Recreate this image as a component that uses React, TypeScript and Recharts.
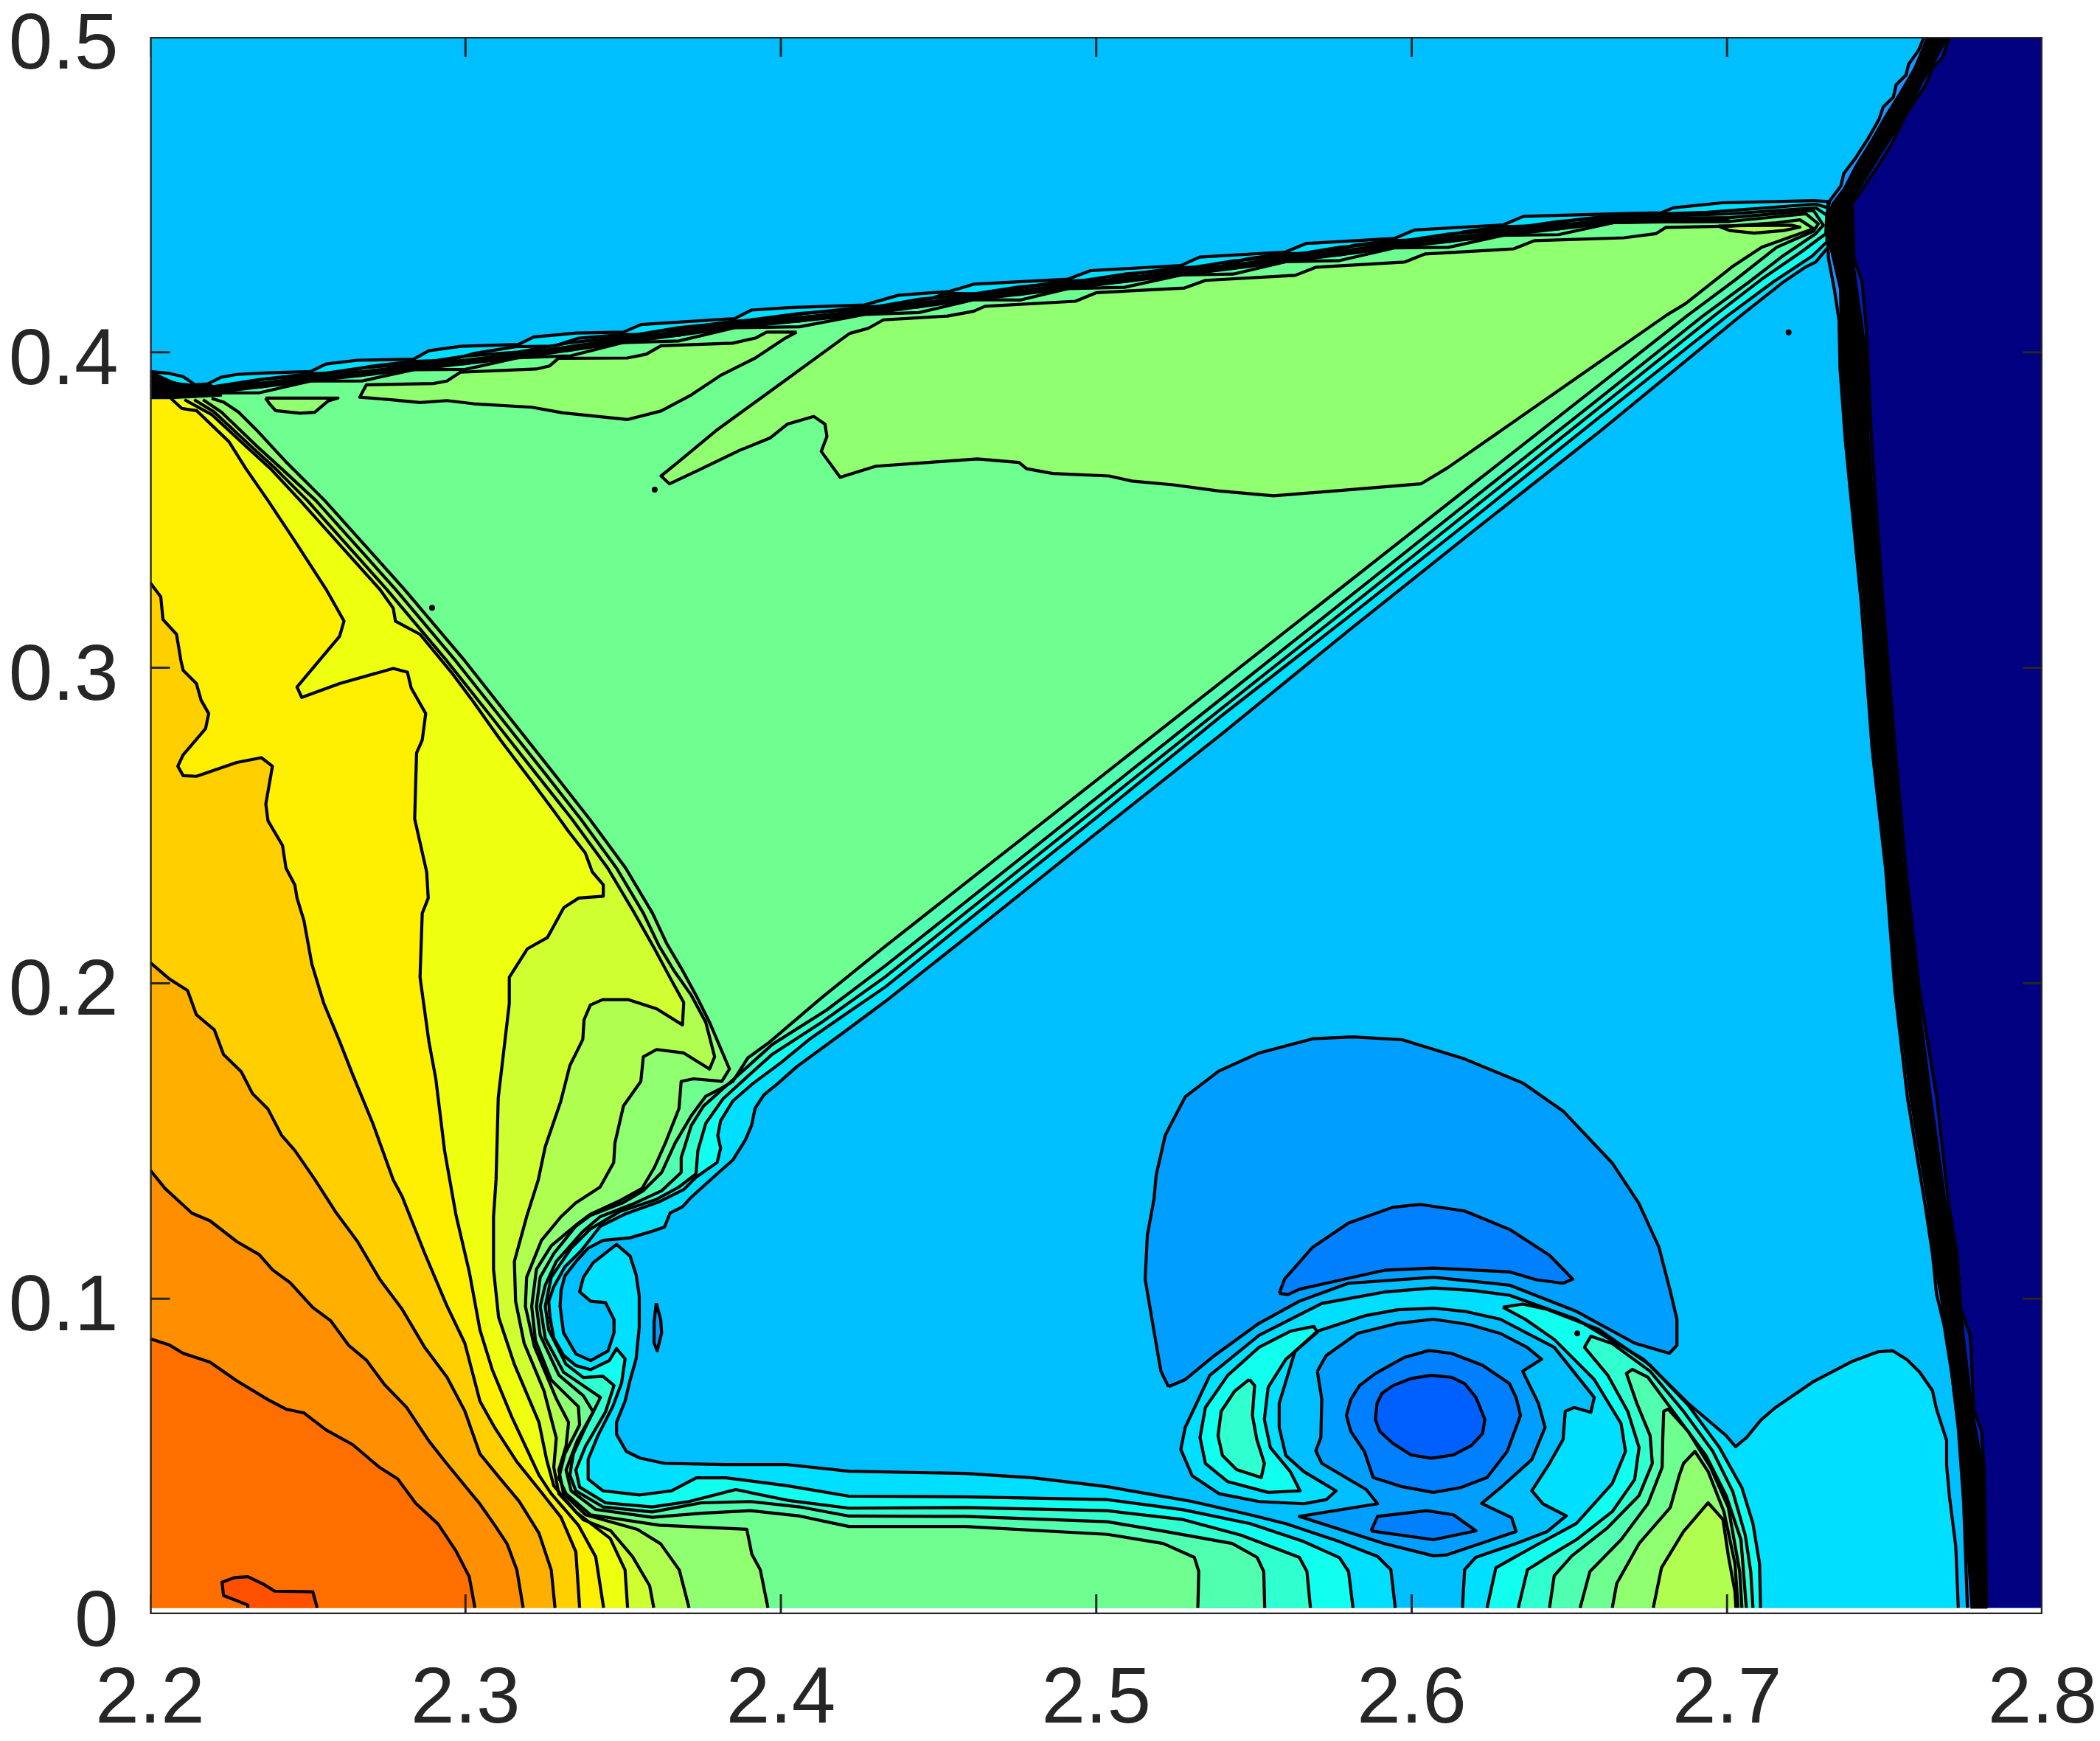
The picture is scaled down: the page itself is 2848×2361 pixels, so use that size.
import React from "react";
import { ScatterChart, Scatter, XAxis, YAxis } from "recharts";

type P = [number, number];

const X_TICKS = [2.2, 2.3, 2.4, 2.5, 2.6, 2.7, 2.8];
const Y_TICKS = [0, 0.1, 0.2, 0.3, 0.4, 0.5];

// ---- level boundaries (x, y) ----
const DOMAIN: P[] = [[2.2,.002],[2.8,.002],[2.8,.5],[2.2,.5]];

const L1_LEFT: P[] = [[2.2,.3939],[2.2062,.3933],[2.2105,.3923],[2.2143,.3897],[2.2183,.39],[2.2225,.3921],[2.2275,.393],[2.2374,.3935],[2.2509,.3939],[2.2558,.3963],[2.2658,.3975],[2.2835,.3978],[2.2884,.4005],[2.2984,.4019],[2.3168,.4025],[2.3217,.4049],[2.3352,.4061],[2.3501,.4064],[2.3557,.4088],[2.3853,.4107],[2.3907,.4134],[2.4026,.4142],[2.4265,.415],[2.4373,.4181],[2.4534,.4193],[2.4611,.4216],[2.491,.4232],[2.4982,.4259],[2.5268,.4275],[2.5328,.4302],[2.56,.4318],[2.5665,.4345],[2.5945,.4361],[2.601,.4388],[2.629,.4404],[2.6355,.4431],[2.6673,.444],[2.679,.4442],[2.6829,.4458],[2.6985,.4474],[2.7274,.4481],[2.732,.4478],[2.732,.4333],[2.7281,.4286],[2.725,.4271],[2.718,.4224],[2.7047,.4119],[2.66,.3752],[2.62,.3437],[2.58,.3118],[2.54,.2792],[2.5,.2475],[2.46,.2155],[2.4332,.1943],[2.42,.1845],[2.4051,.1736],[2.3989,.1681],[2.3946,.1646],[2.3918,.1603],[2.3907,.1549],[2.3887,.1502],[2.3848,.144],[2.3786,.1385],[2.3716,.1322],[2.3688,.1291],[2.3649,.1272],[2.3631,.1227],[2.3592,.1214],[2.3522,.1193],[2.3436,.1185],[2.3389,.116],[2.3354,.1122],[2.3315,.1072],[2.3303,.1026],[2.33,.0976],[2.3311,.0892],[2.335,.0825],[2.3397,.0804],[2.3452,.0834],[2.3471,.0892],[2.3471,.0934],[2.3444,.0988],[2.3397,.0992],[2.3362,.1022],[2.3374,.1068],[2.3405,.1114],[2.3479,.1172],[2.3522,.1135],[2.3541,.1076],[2.3551,.1009],[2.3551,.0909],[2.3541,.0809],[2.3522,.0742],[2.3506,.0675],[2.3479,.0608],[2.3479,.057],[2.351,.0516],[2.3553,.0495],[2.3631,.0478],[2.3826,.0474],[2.4021,.0474],[2.4216,.0453],[2.4584,.0446],[2.48,.0432],[2.5035,.0404],[2.5162,.0382],[2.5304,.0357],[2.5488,.0315],[2.5601,.0287],[2.5771,.023],[2.5892,.0183],[2.5934,.0141],[2.5948,.002]];

const HOLE: P[] = [[2.3605,.0986],[2.3619,.0934],[2.3622,.0892],[2.3608,.0835],[2.3598,.0859],[2.3598,.0926]];

const L1_RIGHT: P[] = [[2.6161,.002],[2.6168,.0141],[2.6203,.018],[2.6331,.0224],[2.643,.0262],[2.649,.0312],[2.6416,.035],[2.6381,.0391],[2.6437,.0478],[2.648,.0554],[2.6487,.0643],[2.6515,.0655],[2.6568,.064],[2.6579,.0687],[2.6452,.0846],[2.6281,.0935],[2.6168,.096],[2.6069,.097],[2.5956,.0965],[2.5856,.0947],[2.5701,.0897],[2.563,.0833],[2.558,.0668],[2.558,.0592],[2.5601,.0503],[2.5658,.0452],[2.576,.0391],[2.5729,.0363],[2.5658,.035],[2.5516,.0357],[2.5389,.0382],[2.5304,.0439],[2.5268,.0522],[2.5282,.0592],[2.536,.0757],[2.5516,.0884],[2.5715,.0985],[2.5913,.1021],[2.6069,.1034],[2.6196,.1026],[2.631,.1011],[2.6522,.0935],[2.6735,.0808],[2.6877,.0668],[2.6997,.0566],[2.7027,.0531],[2.7062,.056],[2.7107,.0615],[2.7152,.0654],[2.7275,.0738],[2.7398,.0802],[2.748,.0832],[2.7525,.0835],[2.757,.0807],[2.761,.0768],[2.7651,.0709],[2.7664,.065],[2.7696,.0551],[2.7696,.0472],[2.7705,.0373],[2.7725,.0215],[2.7733,.002]];

const LOW1_BIG: P[] = [[2.5229,.0721],[2.5283,.0744],[2.5375,.082],[2.5516,.0922],[2.5644,.0992],[2.58,.1049],[2.6069,.1068],[2.631,.1043],[2.6522,.096],[2.6707,.0859],[2.6817,.0827],[2.6841,.0852],[2.6841,.0935],[2.682,.1024],[2.6784,.1163],[2.672,.1303],[2.6636,.143],[2.648,.1595],[2.6352,.1684],[2.6168,.176],[2.597,.1821],[2.5814,.183],[2.5686,.1824],[2.5516,.1779],[2.5389,.1722],[2.5282,.164],[2.5219,.1519],[2.519,.1392],[2.5183,.1316],[2.5162,.1201],[2.5155,.1062],[2.5183,.0897],[2.5205,.077]];
const LOW2_ARC: P[] = [[2.558,.1017],[2.5597,.1062],[2.5686,.1163],[2.58,.124],[2.5941,.129],[2.6026,.1299],[2.6168,.1278],[2.631,.122],[2.6437,.1138],[2.6511,.1062],[2.648,.1049],[2.6395,.106],[2.631,.1085],[2.6069,.1097],[2.5913,.109],[2.5786,.1062],[2.5644,.103],[2.5608,.1013]];
const LOW1_EYE: P[] = [[2.5701,.077],[2.5729,.082],[2.5828,.089],[2.5956,.0922],[2.6069,.0935],[2.6182,.0918],[2.6281,.089],[2.6366,.0846],[2.6412,.0808],[2.6352,.077],[2.6402,.0668],[2.6423,.0592],[2.6381,.049],[2.6282,.0401],[2.6222,.0351],[2.6317,.0306],[2.6331,.0262],[2.6112,.0188],[2.6069,.0185],[2.5913,.0224],[2.5644,.031],[2.5892,.035],[2.5856,.0395],[2.5715,.0478],[2.5696,.0518],[2.5712,.056],[2.5715,.0681]];
const LOW2_EYE: P[] = [[2.5807,.0681],[2.5793,.063],[2.5807,.0579],[2.585,.0516],[2.5878,.0433],[2.597,.0404],[2.6069,.0386],[2.6154,.0401],[2.6239,.0433],[2.6303,.0516],[2.6345,.063],[2.6331,.0687],[2.631,.0731],[2.6225,.0789],[2.6126,.0827],[2.6055,.0836],[2.5977,.0814],[2.5885,.0763],[2.5835,.0725]];
const LOW3_EYE: P[] = [[2.5941,.0725],[2.5998,.0747],[2.6062,.0757],[2.6126,.0751],[2.6168,.0731],[2.6204,.0687],[2.6232,.0617],[2.6225,.0573],[2.619,.0535],[2.6133,.0505],[2.6062,.0494],[2.5998,.0505],[2.5941,.0541],[2.5899,.0579],[2.5885,.0617],[2.589,.0668],[2.5906,.07]];
const LOW2_SMALL: P[] = [[2.5871,.0264],[2.5892,.031],[2.6048,.0328],[2.6133,.0315],[2.6204,.0264],[2.6069,.0236]];

const L2_LEFT: P[] = [[2.2,.3925],[2.2143,.3885],[2.2288,.3897],[2.2366,.3916],[2.2507,.3932],[2.2616,.3936],[2.2694,.3955],[2.2834,.3971],[2.295,.3975],[2.303,.3997],[2.316,.4018],[2.328,.402],[2.336,.4045],[2.3495,.4056],[2.362,.4058],[2.37,.4077],[2.3845,.4098],[2.3955,.4105],[2.4074,.4123],[2.4253,.4142],[2.442,.4155],[2.448,.4172],[2.4525,.4187],[2.4671,.4185],[2.4779,.4208],[2.49,.4226],[2.504,.423],[2.514,.4252],[2.526,.4268],[2.539,.4272],[2.548,.4297],[2.559,.4312],[2.573,.4316],[2.582,.434],[2.5935,.4354],[2.6075,.4358],[2.6165,.4382],[2.628,.4398],[2.642,.4402],[2.652,.442],[2.664,.4434],[2.6938,.4444],[2.7281,.447],[2.732,.4458],[2.7316,.435],[2.727,.4305],[2.7149,.4225],[2.7,.4115],[2.66,.3798],[2.62,.3478],[2.58,.3162],[2.54,.285],[2.5,.2525],[2.46,.2205],[2.4332,.1989],[2.4191,.1892],[2.409,.1822],[2.4004,.1751],[2.391,.1681],[2.3848,.1627],[2.3809,.1564],[2.38,.1517],[2.3809,.1478],[2.3798,.1432],[2.3731,.1385],[2.3692,.1346],[2.3614,.1307],[2.3505,.1268],[2.3427,.1229],[2.3366,.1151],[2.3315,.1101],[2.328,.1038],[2.3264,.0992],[2.3268,.0942],[2.328,.0875],[2.3311,.0821],[2.335,.0788],[2.3397,.0775],[2.3456,.0804],[2.3479,.0842],[2.3506,.0809],[2.3495,.0733],[2.3467,.0658],[2.342,.0566],[2.3389,.0491],[2.3389,.0428],[2.3436,.0391],[2.3553,.0378],[2.3654,.0391],[2.3732,.0432],[2.3826,.0432],[2.4021,.0407],[2.4216,.0374],[2.4584,.0372],[2.5035,.0363],[2.5275,.0331],[2.5488,.0287],[2.5658,.023],[2.5771,.0179],[2.58,.0135],[2.5814,.002]];
const L2_RIGHT: P[] = [[2.6289,.0973],[2.6352,.0983],[2.643,.0966],[2.6593,.0903],[2.6756,.0789],[2.6877,.0662],[2.6976,.0528],[2.7047,.0401],[2.7082,.0287],[2.7103,.016],[2.7106,.002]];
const L2_RIGHT_IN: P[] = [[2.6239,.002],[2.6267,.0147],[2.6381,.0211],[2.6522,.0287],[2.6636,.0414],[2.6678,.0516],[2.6664,.0604],[2.6579,.0744],[2.6452,.0871],[2.636,.0935],[2.6289,.0973]];
const L2_CRESCENT: P[] = [[2.5615,.0897],[2.569,.0912],[2.5701,.0894],[2.5601,.0808],[2.5545,.0719],[2.5533,.0617],[2.5552,.0528],[2.5615,.0452],[2.5646,.0391],[2.5545,.0386],[2.5417,.042],[2.5346,.0478],[2.5329,.056],[2.5346,.0655],[2.5417,.0757],[2.5516,.0846]];

const L3_LEFT: P[] = [[2.2,.391],[2.2187,.3889],[2.2348,.3914],[2.2509,.3927],[2.2672,.3951],[2.2835,.3963],[2.3,.3988],[2.3168,.4001],[2.3334,.4031],[2.35,.4049],[2.3676,.4078],[2.3853,.4096],[2.4059,.4123],[2.4265,.4138],[2.4438,.4168],[2.4611,.4185],[2.476,.4208],[2.491,.422],[2.5089,.4248],[2.5268,.4263],[2.5434,.429],[2.56,.4305],[2.5772,.4333],[2.5945,.4349],[2.6117,.4375],[2.629,.4389],[2.6465,.4415],[2.664,.4429],[2.68,.4432],[2.7008,.4439],[2.7281,.4458],[2.7316,.4435],[2.7313,.4376],[2.7235,.4318],[2.711,.4232],[2.6958,.4115],[2.66,.3829],[2.62,.351],[2.58,.3191],[2.54,.2873],[2.5,.2554],[2.46,.2235],[2.4332,.2021],[2.4129,.1876],[2.3973,.1775],[2.3895,.1705],[2.3817,.1634],[2.3762,.1556],[2.3737,.147],[2.3731,.1396],[2.3677,.1354],[2.3606,.1315],[2.3489,.1276],[2.3396,.1221],[2.3335,.116],[2.3272,.1068],[2.3253,.0976],[2.3264,.0901],[2.3319,.0792],[2.3374,.075],[2.3436,.0754],[2.3471,.0725],[2.3444,.0641],[2.3381,.0533],[2.335,.0457],[2.3362,.0403],[2.3444,.0353],[2.3592,.034],[2.3709,.0357],[2.3857,.0395],[2.4021,.0361],[2.4216,.0336],[2.4584,.0338],[2.5035,.0328],[2.5275,.03],[2.546,.025],[2.5644,.018],[2.5668,.0135],[2.5679,.002]];
const L3_RIGHT: P[] = [[2.6338,.002],[2.6367,.0141],[2.6437,.0185],[2.6522,.0236],[2.6636,.0325],[2.6707,.0427],[2.6721,.0528],[2.6685,.0643],[2.6622,.0757],[2.6548,.0846],[2.6568,.0881],[2.6636,.0858],[2.6756,.077],[2.6862,.0643],[2.6955,.0516],[2.7018,.0389],[2.7058,.0249],[2.7075,.0135],[2.7082,.002]];
const L3_CRESCENT: P[] = [[2.5485,.0744],[2.5502,.0725],[2.5495,.063],[2.5509,.0554],[2.5533,.0478],[2.5523,.0433],[2.5445,.0458],[2.54,.0503],[2.5386,.0566],[2.5396,.0643],[2.5438,.0706]];

const L4_LEFT: P[] = [[2.2,.39],[2.2187,.3881],[2.2348,.389],[2.2509,.3919],[2.2672,.3927],[2.2835,.3955],[2.3,.3964],[2.3168,.3993],[2.3334,.4007],[2.35,.4041],[2.3676,.4054],[2.3853,.4088],[2.4059,.4099],[2.4265,.413],[2.4438,.4144],[2.4611,.4177],[2.476,.4184],[2.491,.4212],[2.5089,.4224],[2.5268,.4255],[2.5434,.4266],[2.56,.4297],[2.5772,.4309],[2.5945,.4341],[2.6117,.4351],[2.629,.4381],[2.6465,.4391],[2.664,.4421],[2.68,.4425],[2.7008,.4427],[2.7274,.445],[2.7305,.4403],[2.7281,.4376],[2.7172,.4302],[2.7071,.4224],[2.6923,.4115],[2.66,.3858],[2.62,.3541],[2.58,.3223],[2.54,.2905],[2.5,.2587],[2.46,.2269],[2.4332,.2056],[2.4145,.1915],[2.3973,.1806],[2.3895,.1736],[2.3817,.1666],[2.3755,.1611],[2.3716,.1549],[2.3684,.1447],[2.3684,.14],[2.3622,.1342],[2.3528,.1299],[2.3427,.126],[2.3372,.1213],[2.3288,.1118],[2.3253,.1043],[2.3237,.0976],[2.3253,.0875],[2.3311,.0767],[2.3428,.0687],[2.338,.0591],[2.3342,.0508],[2.3331,.0441],[2.335,.0391],[2.3436,.034],[2.3592,.0324],[2.3748,.0353],[2.3904,.0357],[2.406,.034],[2.4216,.0311],[2.4584,.031],[2.5035,.0293],[2.5219,.0262],[2.5431,.0224],[2.551,.018],[2.5531,.0135],[2.5534,.002]];
const L4_RIGHT: P[] = [[2.6437,.002],[2.6452,.0122],[2.6508,.0185],[2.6621,.0274],[2.6721,.0376],[2.6763,.0478],[2.6756,.0566],[2.6714,.0668],[2.6681,.0763],[2.67,.0776],[2.6749,.0751],[2.6848,.0617],[2.6933,.0503],[2.6997,.0376],[2.7044,.0236],[2.7061,.002]];

const L5_LEFT: P[] = [[2.2,.389],[2.2187,.3871],[2.2348,.3872],[2.2509,.3909],[2.2672,.3909],[2.2835,.3945],[2.3,.3946],[2.3168,.3983],[2.3334,.3989],[2.35,.4031],[2.3676,.4036],[2.3853,.4078],[2.4059,.4081],[2.4265,.412],[2.4438,.4126],[2.4611,.4167],[2.476,.4166],[2.491,.4202],[2.5089,.4206],[2.5268,.4245],[2.5434,.4248],[2.56,.4287],[2.5772,.4291],[2.5945,.4331],[2.6117,.4333],[2.629,.4371],[2.6465,.4373],[2.664,.4411],[2.68,.4415],[2.7008,.4415],[2.725,.4439],[2.7289,.4407],[2.7274,.4384],[2.7157,.4333],[2.7024,.4228],[2.6872,.4115],[2.66,.3901],[2.62,.3587],[2.58,.3272],[2.54,.2958],[2.5,.2643],[2.46,.2329],[2.4332,.2118],[2.4129,.1954],[2.3965,.1814],[2.3895,.1763],[2.3848,.1689],[2.3809,.1666],[2.3762,.1642],[2.3716,.158],[2.3665,.1494],[2.3622,.14],[2.3563,.1342],[2.3497,.1303],[2.3396,.1264],[2.3349,.1229],[2.328,.1143],[2.3237,.1068],[2.3225,.0976],[2.3237,.0884],[2.3296,.0758],[2.3374,.0692],[2.3405,.0641],[2.3354,.0549],[2.3319,.0457],[2.3335,.0391],[2.3413,.0332],[2.3592,.0307],[2.3748,.032],[2.3904,.0328],[2.406,.0311],[2.4216,.0278],[2.4584,.0278],[2.5035,.0253],[2.5212,.0224],[2.5311,.018],[2.5325,.0135],[2.5322,.002]];
const L5_RIGHT: P[] = [[2.6534,.002],[2.6565,.0135],[2.6664,.0236],[2.6749,.035],[2.6794,.0465],[2.6796,.0554],[2.6799,.0643],[2.6813,.065],[2.6877,.0579],[2.6948,.0465],[2.7004,.0338],[2.704,.0135],[2.7047,.002]];

const L6_LEFT: P[] = [[2.2195,.3854],[2.2234,.3842],[2.2281,.381],[2.2343,.3748],[2.2429,.3655],[2.2554,.353],[2.2806,.3249],[2.2998,.3022],[2.3139,.2843],[2.3281,.2664],[2.3394,.252],[2.3508,.2365],[2.3593,.2222],[2.3638,.2126],[2.3684,.2048],[2.3731,.1962],[2.3774,.1876],[2.3837,.1728],[2.3813,.1689],[2.3723,.1697],[2.3684,.1689],[2.3677,.1603],[2.3634,.1494],[2.3599,.1416],[2.356,.135],[2.349,.1311],[2.3396,.1268],[2.335,.1233],[2.3272,.1168],[2.3225,.1093],[2.321,.0976],[2.3222,.0867],[2.3272,.0742],[2.3358,.0658],[2.3362,.06],[2.3315,.0508],[2.3296,.0432],[2.3319,.0382],[2.3397,.0315],[2.3615,.0282],[2.3892,.0269],[2.3908,.019],[2.3935,.014],[2.3959,.002]];
const L6_TOP: P[] = [[2.4218,.406],[2.4277,.4076],[2.4325,.4103],[2.4528,.4115],[2.4611,.413],[2.4647,.4146],[2.4934,.4162],[2.5,.4189],[2.528,.4204],[2.5346,.4228],[2.5631,.4244],[2.5697,.427],[2.5977,.4286],[2.6043,.4312],[2.6323,.4328],[2.6389,.4354],[2.6673,.4363],[2.6774,.4376],[2.6806,.4396],[2.7008,.44],[2.7157,.4411],[2.7231,.442],[2.7274,.4392],[2.711,.4333],[2.7016,.4271],[2.6868,.4154],[2.681,.4119],[2.6114,.3634],[2.6029,.3583],[2.5774,.3562],[2.5562,.3545],[2.5385,.3561],[2.5244,.358],[2.5113,.3592],[2.5041,.3608],[2.4862,.3616],[2.4779,.3631],[2.4755,.3651],[2.4623,.3662],[2.4468,.3651],[2.4301,.3639],[2.4188,.3604],[2.4128,.3686],[2.4146,.3733],[2.414,.3772],[2.4104,.3797],[2.402,.3772],[2.3967,.3729],[2.3871,.369],[2.374,.3627],[2.3647,.3583],[2.362,.3608],[2.3668,.3647],[2.38,.3756],[2.4026,.392]];
const L6_MID: P[] = [[2.405,.4064],[2.4014,.4045],[2.3919,.3982],[2.3811,.3928],[2.3716,.3865],[2.362,.3814],[2.3513,.3787],[2.3309,.3808],[2.321,.3826],[2.3026,.3837],[2.2941,.3847],[2.2856,.3841],[2.2771,.3849],[2.2665,.3858],[2.2686,.3897],[2.2898,.3901],[2.2941,.3909],[2.2984,.3937],[2.3224,.3947],[2.3267,.3957],[2.3295,.3981],[2.3513,.3982],[2.3573,.3994],[2.362,.4021],[2.3847,.4029],[2.3919,.4045],[2.3955,.4064]];
const L6_SMALL: P[] = [[2.2366,.3855],[2.2596,.3855],[2.2565,.3846],[2.2522,.381],[2.2476,.3807],[2.2398,.3815],[2.2378,.3838]];
const L6_RIGHT: P[] = [[2.6636,.002],[2.665,.0097],[2.6721,.0224],[2.682,.0338],[2.6848,.0439],[2.6862,.0478],[2.6898,.0516],[2.694,.0452],[2.699,.0325],[2.7025,.016],[2.7035,.002]];

const L7_LEFT: P[] = [[2.2168,.385],[2.2226,.3811],[2.2339,.3702],[2.2417,.3631],[2.2526,.353],[2.2778,.3249],[2.2969,.3022],[2.3111,.2843],[2.3253,.2664],[2.3366,.252],[2.3479,.2365],[2.3564,.2222],[2.3614,.2118],[2.3661,.204],[2.3716,.1962],[2.3762,.1876],[2.379,.1767],[2.3774,.1728],[2.3692,.1779],[2.3606,.179],[2.3564,.1767],[2.3556,.1689],[2.3501,.1611],[2.3474,.1494],[2.347,.1432],[2.3427,.1354],[2.3349,.1303],[2.3303,.126],[2.3241,.1185],[2.3194,.1068],[2.319,.0976],[2.3218,.085],[2.3288,.0683],[2.3327,.0608],[2.3319,.0533],[2.3296,.0457],[2.3311,.0382],[2.3381,.0315],[2.3545,.0269],[2.3619,.0223],[2.3678,.014],[2.3709,.002]];
const L7_RIGHT: P[] = [[2.6766,.002],[2.6792,.0147],[2.6862,.0262],[2.694,.0353],[2.6987,.03],[2.7004,.0185],[2.7025,.0071],[2.7028,.002]];
const L7_TIP: P[] = [[2.6973,.44],[2.7008,.4386],[2.7086,.4378],[2.718,.4386],[2.7231,.4397],[2.7203,.4403],[2.7063,.4402]];

const L8_LEFT: P[] = [[2.214,.385],[2.2203,.3811],[2.232,.3702],[2.2398,.3631],[2.2499,.353],[2.275,.3249],[2.2941,.3022],[2.3083,.2843],[2.3224,.2664],[2.3338,.252],[2.3451,.2365],[2.3536,.2222],[2.3599,.211],[2.3649,.2017],[2.3692,.1939],[2.3688,.1868],[2.3606,.1919],[2.3517,.1948],[2.3435,.1948],[2.3396,.1931],[2.3376,.1884],[2.3372,.1822],[2.3349,.1775],[2.3331,.1739],[2.3302,.1625],[2.3253,.1482],[2.3231,.1377],[2.3194,.126],[2.3155,.1118],[2.3159,.0992],[2.3186,.0859],[2.3249,.0708],[2.3288,.0558],[2.328,.0466],[2.3296,.0382],[2.3374,.0299],[2.346,.0265],[2.353,.0182],[2.3584,.009],[2.3597,.002]];
const L9_LEFT: P[] = [[2.2109,.385],[2.2195,.3803],[2.2304,.3702],[2.2382,.3631],[2.2476,.353],[2.2728,.3249],[2.2771,.3189],[2.2778,.3148],[2.2856,.3106],[2.2955,.2986],[2.3026,.2891],[2.3111,.2771],[2.321,.264],[2.3281,.2545],[2.3324,.2485],[2.338,.2413],[2.3402,.2353],[2.3437,.2312],[2.3437,.2276],[2.3359,.227],[2.3312,.224],[2.326,.2145],[2.3196,.2109],[2.3139,.2019],[2.3139,.1936],[2.3125,.1816],[2.3104,.1637],[2.3097,.1377],[2.3089,.126],[2.3089,.1093],[2.3105,.0942],[2.3155,.0792],[2.3233,.0608],[2.3257,.0491],[2.328,.0407],[2.335,.0324],[2.3459,.024],[2.3506,.014],[2.3514,.002]];
const L10_LEFT: P[] = [[2.2066,.3854],[2.2101,.3822],[2.2148,.3815],[2.225,.3717],[2.2304,.3631],[2.2374,.353],[2.2459,.3402],[2.2558,.3249],[2.2615,.3148],[2.2601,.31],[2.2466,.2939],[2.2481,.2906],[2.2601,.295],[2.2771,.2998],[2.2816,.2986],[2.2828,.2936],[2.2874,.2855],[2.2863,.2771],[2.2845,.273],[2.2839,.2521],[2.2877,.2353],[2.2882,.227],[2.2863,.2222],[2.2856,.2019],[2.2884,.1816],[2.2906,.1697],[2.2934,.1468],[2.297,.1265],[2.3012,.1086],[2.3046,.0901],[2.3085,.0775],[2.3147,.0625],[2.3233,.0441],[2.3272,.0382],[2.3358,.0282],[2.3413,.0182],[2.3438,.002]];
const L11_LEFT: P[] = [[2.2,.327],[2.2034,.3225],[2.2041,.3153],[2.2084,.3106],[2.2098,.3022],[2.2105,.2992],[2.2147,.295],[2.2162,.2897],[2.2186,.2855],[2.2176,.2807],[2.2105,.2724],[2.2088,.2688],[2.2105,.2658],[2.2147,.2656],[2.2275,.27],[2.2353,.2715],[2.2388,.2688],[2.2367,.2568],[2.2374,.2515],[2.242,.2437],[2.2431,.2365],[2.2459,.2312],[2.2466,.227],[2.2488,.2198],[2.2513,.2061],[2.2551,.1936],[2.2601,.1816],[2.2643,.1709],[2.2707,.1554],[2.2771,.1377],[2.2799,.1325],[2.287,.1146],[2.2941,.0978],[2.2998,.0859],[2.3046,.0675],[2.3093,.0591],[2.3163,.0483],[2.3237,.0391],[2.3303,.0307],[2.335,.0198],[2.3362,.002]];
const L12_LEFT: P[] = [[2.2,.2066],[2.2062,.2013],[2.2119,.1977],[2.2147,.19],[2.2204,.1852],[2.2233,.1774],[2.2289,.172],[2.2325,.165],[2.2374,.1601],[2.2417,.1518],[2.2459,.147],[2.2523,.1377],[2.2587,.1277],[2.2658,.1181],[2.2728,.1062],[2.2799,.0967],[2.287,.0847],[2.2941,.0752],[2.2998,.0644],[2.3046,.0508],[2.3108,.0432],[2.3171,.0357],[2.3233,.0257],[2.3272,.014],[2.3284,.002]];
const L13_LEFT: P[] = [[2.2,.1408],[2.2048,.1349],[2.2133,.1271],[2.219,.1247],[2.2275,.1181],[2.2346,.114],[2.2388,.1092],[2.2445,.105],[2.2516,.0972],[2.2573,.093],[2.2629,.0853],[2.2686,.0805],[2.2743,.0728],[2.2813,.0656],[2.2884,.0549],[2.2941,.0477],[2.3046,.0349],[2.3093,.0282],[2.3132,.0223],[2.3163,.014],[2.3183,.002]];
const L14_LEFT: P[] = [[2.2,.0873],[2.2062,.0853],[2.2105,.0827],[2.219,.0799],[2.2275,.074],[2.2374,.068],[2.2431,.065],[2.2488,.0638],[2.2558,.0584],[2.2643,.0537],[2.2728,.0465],[2.2785,.0429],[2.2842,.0352],[2.2913,.0286],[2.2969,.0202],[2.3012,.0119],[2.303,.002]];
const L15_BLOB: P[] = [[2.231,.002],[2.231,.0029],[2.2233,.0059],[2.2228,.0101],[2.2268,.0116],[2.231,.0119],[2.236,.0095],[2.2395,.0073],[2.2516,.0071],[2.253,.002]];

// stem band and its thick left end
const STEM_CORE: P[] = [[2.2187,.3877],[2.2348,.3896],[2.2509,.3915],[2.2672,.3933],[2.2835,.3951],[2.3,.397],[2.3168,.3989],[2.3334,.4013],[2.35,.4037],[2.3676,.406],[2.3853,.4084],[2.4059,.4105],[2.4265,.4126],[2.4438,.415],[2.4611,.4173],[2.476,.419],[2.491,.4208],[2.5089,.423],[2.5268,.4251],[2.5434,.4272],[2.56,.4293],[2.5772,.4315],[2.5945,.4337],[2.6117,.4357],[2.629,.4377],[2.6465,.4397],[2.664,.4417],[2.68,.4419],[2.7008,.442]];
const STEM_END: P[] = [[2.2,.394],[2.207,.3908],[2.2109,.3893],[2.2187,.39],[2.2226,.3881],[2.2226,.3862],[2.2066,.3854],[2.2,.3854]];

// right shock
const SHOCK_LEFT_WAVE: P[] = [[2.7625,.5],[2.7607,.4957],[2.7576,.4914],[2.7567,.4879],[2.7536,.4848],[2.7527,.4809],[2.7495,.4778],[2.7482,.4739],[2.7446,.4676],[2.7406,.4614],[2.737,.4567],[2.7361,.4528],[2.7326,.4481],[2.7317,.4442],[2.7321,.43],[2.734,.42],[2.7355,.41],[2.7358,.395],[2.7375,.3719],[2.7425,.3209],[2.746,.2741],[2.7503,.2359],[2.7532,.1976],[2.7572,.1636],[2.7628,.1296],[2.7651,.1143],[2.7664,.1015],[2.7688,.0916],[2.7713,.0758],[2.7733,.059],[2.775,.0353],[2.7762,.002]];
const SHOCK_CORE_LEFT: P[] = [[2.7634,.5],[2.7594,.4903],[2.7549,.4825],[2.7504,.4754],[2.7455,.4669],[2.7406,.459],[2.737,.452],[2.7335,.4474],[2.7321,.4442],[2.7321,.4357],[2.7357,.4201],[2.7362,.3951],[2.738,.3719],[2.7432,.3209],[2.7466,.2741],[2.7508,.2359],[2.7538,.1976],[2.758,.1636],[2.7636,.1296],[2.7651,.1143],[2.7675,.1015],[2.7692,.0906],[2.7733,.058],[2.7755,.03],[2.7774,.002]];
const SHOCK_CORE_RIGHT: P[] = [[2.7701,.5],[2.767,.4942],[2.762,.4856],[2.7571,.4762],[2.7518,.4676],[2.7455,.4575],[2.7406,.4497],[2.7397,.4474],[2.7402,.4279],[2.7437,.4029],[2.7442,.3951],[2.745,.3719],[2.7488,.3209],[2.7526,.2741],[2.756,.2359],[2.7604,.1976],[2.7648,.1636],[2.7695,.1296],[2.7729,.1143],[2.7741,.0975],[2.7778,.0649],[2.7815,.0452],[2.7823,.002]];
const SHOCK_RIGHT_WAVE: P[] = [[2.7705,.5],[2.7683,.4934],[2.7652,.4903],[2.763,.4848],[2.7567,.4754],[2.7522,.4661],[2.7478,.459],[2.7415,.4497],[2.7397,.4474],[2.7402,.43],[2.7428,.4224],[2.7442,.4068],[2.7447,.395],[2.7458,.3719],[2.7494,.3209],[2.7533,.2741],[2.7567,.2359],[2.761,.1976],[2.7665,.1636],[2.7703,.1296],[2.7729,.1143],[2.7741,.0965],[2.777,.0886],[2.7774,.0827],[2.7782,.0649],[2.7807,.058],[2.7815,.0452],[2.7823,.002]];

const DOTS: P[] = [[2.36,.3565],[2.2894,.319],[2.7195,.4063],[2.6525,.089]];

// ---- colours ----
const BLUE_0 = "#00BFFF", BLUE_1 = "#009FFF", BLUE_2 = "#007FFF", BLUE_3 = "#005FFF", NAVY = "#000080";
const LV = ["", "#00DFFF", "#10FFEF", "#30FFCF", "#50FFAF", "#6FFF90", "#90FF70", "#B0FF50", "#CFFF30", "#EFFF10", "#FFEF00", "#FFCF00", "#FFAF00", "#FF8F00", "#FF6F00", "#FF4F00"];

const closed = (a: P[]): P[] => [...a, a[0]];
const rev = (a: P[]): P[] => [...a].reverse();
const toRows = (a: P[]) => a.map(([x, y]) => ({ x, y }));
const LL: P[] = [[2.2, 0.002]];

// fill polygons, painted in order
const FILLS: [string, P[]][] = [
  [BLUE_0, DOMAIN],
  [LV[1], [...L1_LEFT, ...LL]],
  [BLUE_1, HOLE],
  [LV[1], L1_RIGHT],
  [BLUE_1, LOW1_BIG],
  [BLUE_2, LOW2_ARC],
  [BLUE_1, LOW1_EYE],
  [BLUE_2, LOW2_EYE],
  [BLUE_3, LOW3_EYE],
  [BLUE_2, LOW2_SMALL],
  [LV[2], [...L2_LEFT, ...LL]],
  [LV[2], [...L2_RIGHT, ...L2_RIGHT_IN]],
  [LV[2], L2_CRESCENT],
  [LV[3], [...L3_LEFT, ...LL]],
  [LV[3], L3_RIGHT],
  [LV[3], L3_CRESCENT],
  [LV[4], [...L4_LEFT, ...LL]],
  [LV[4], L4_RIGHT],
  [LV[5], [...L5_LEFT, ...LL]],
  [LV[5], L5_RIGHT],
  [LV[6], [...L6_LEFT, ...LL, [2.2, 0.3854]]],
  [LV[6], L6_TOP],
  [LV[6], L6_MID],
  [LV[6], L6_SMALL],
  [LV[6], L6_RIGHT],
  [LV[7], [...L7_LEFT, ...LL, [2.2, 0.385]]],
  [LV[7], L7_RIGHT],
  [LV[7], L7_TIP],
  [LV[8], [...L8_LEFT, ...LL, [2.2, 0.385]]],
  [LV[9], [...L9_LEFT, ...LL, [2.2, 0.385]]],
  [LV[10], [...L10_LEFT, ...LL, [2.2, 0.385]]],
  [LV[11], [...L11_LEFT, ...LL]],
  [LV[12], [...L12_LEFT, ...LL]],
  [LV[13], [...L13_LEFT, ...LL]],
  [LV[14], [...L14_LEFT, ...LL]],
  [LV[15], L15_BLOB],
  [NAVY, [...SHOCK_RIGHT_WAVE, [2.8, 0.002], [2.8, 0.5]]],
  ["#0020C0", [...SHOCK_RIGHT_WAVE, ...rev(SHOCK_CORE_RIGHT)]],
  ["#1E90FF", [...SHOCK_LEFT_WAVE, ...rev(SHOCK_CORE_LEFT)]],
];

// contour lines, all drawn over the fills
const LINES: P[][] = [
  L1_LEFT, closed(HOLE), L1_RIGHT, closed(LOW1_BIG), closed(LOW2_ARC), closed(LOW1_EYE), closed(LOW2_EYE), closed(LOW3_EYE), closed(LOW2_SMALL),
  L2_LEFT, L2_RIGHT, L2_RIGHT_IN, closed(L2_CRESCENT),
  L3_LEFT, L3_RIGHT, closed(L3_CRESCENT),
  L4_LEFT, L4_RIGHT, L5_LEFT, L5_RIGHT,
  L6_LEFT, closed(L6_TOP), closed(L6_MID), closed(L6_SMALL), L6_RIGHT,
  L7_LEFT, L7_RIGHT, closed(L7_TIP),
  L8_LEFT, L9_LEFT, L10_LEFT, L11_LEFT, L12_LEFT, L13_LEFT, L14_LEFT, L15_BLOB,
  SHOCK_LEFT_WAVE, SHOCK_RIGHT_WAVE,
];

const BLACK_FILLS: P[][] = [STEM_END, [...SHOCK_CORE_LEFT, ...rev(SHOCK_CORE_RIGHT)]];

// frame and inward ticks, drawn last so that they lie over the fills
const TICK_X = 0.0063;
const TICK_Y = 0.0063;
const FRAME: P[] = [[2.2, 0], [2.8, 0], [2.8, 0.5], [2.2, 0.5], [2.2, 0]];
const TICK_MARKS: P[][] = [
  ...X_TICKS.map((x): P[] => [[x, 0], [x, TICK_Y]]),
  ...X_TICKS.map((x): P[] => [[x, 0.5], [x, 0.5 - TICK_Y]]),
  ...Y_TICKS.map((y): P[] => [[2.2, y], [2.2 + TICK_X, y]]),
  ...Y_TICKS.map((y): P[] => [[2.8, y], [2.8 - TICK_X, y]]),
];

const NoMark = () => <g />;
const Dot = (p: any) => <circle cx={p.cx} cy={p.cy} r={4} fill="#000" />;

const INK = "#262626";
const fmt = (v: number) => String(v);

export default function App() {
  return (
    <div style={{ position: "absolute", left: 0, top: 0 }}>
      <ScatterChart width={2848} height={2361} margin={{ top: 50, right: 78, bottom: 0, left: 0 }}>
        <XAxis type="number" dataKey="x" domain={[2.2, 2.8]} ticks={X_TICKS} interval={0} height={172} allowDataOverflow
          tickSize={0} tickMargin={71} tickFormatter={fmt} axisLine={false} tickLine={false}
          tick={{ fill: INK, fontSize: 107, fontFamily: "Liberation Sans" }} />
        <YAxis type="number" dataKey="y" domain={[0, 0.5]} ticks={Y_TICKS} interval={0} width={203.5} allowDataOverflow
          tickSize={0} tickMargin={43} tickFormatter={fmt} axisLine={false} tickLine={false}
          tick={{ fill: INK, fontSize: 107, fontFamily: "Liberation Sans", dy: 5 }} />
        {FILLS.map(([fill, pts], i) => (
          <Scatter key={"f" + i} data={toRows(pts)} dataKey="y" isAnimationActive={false} shape={NoMark} legendType="none"
            line={{ stroke: "none", fill }} lineJointType="linear" />
        ))}
        {LINES.map((pts, i) => (
          <Scatter key={"l" + i} data={toRows(pts)} dataKey="y" isAnimationActive={false} shape={NoMark} legendType="none"
            line={{ stroke: "#000", strokeWidth: 4.2, fill: "none", strokeLinejoin: "round" }} lineJointType="linear" />
        ))}
        {BLACK_FILLS.map((pts, i) => (
          <Scatter key={"b" + i} data={toRows(pts)} dataKey="y" isAnimationActive={false} shape={NoMark} legendType="none"
            line={{ stroke: "#000", strokeWidth: 2, fill: "#000" }} lineJointType="linear" />
        ))}
        <Scatter data={toRows(STEM_CORE)} dataKey="y" isAnimationActive={false} shape={NoMark} legendType="none"
          line={{ stroke: "#000", strokeWidth: 9, fill: "none", strokeLinejoin: "round" }} lineJointType="linear" />
        <Scatter data={toRows(DOTS)} dataKey="y" isAnimationActive={false} shape={Dot} legendType="none" />
        {TICK_MARKS.map((pts, i) => (
          <Scatter key={"t" + i} data={toRows(pts)} dataKey="y" isAnimationActive={false} shape={NoMark} legendType="none"
            line={{ stroke: INK, strokeWidth: 3 }} lineJointType="linear" />
        ))}
        <Scatter data={toRows(FRAME)} dataKey="y" isAnimationActive={false} shape={NoMark} legendType="none"
          line={{ stroke: INK, strokeWidth: 4.5, fill: "none" }} lineJointType="linear" />
      </ScatterChart>
    </div>
  );
}
